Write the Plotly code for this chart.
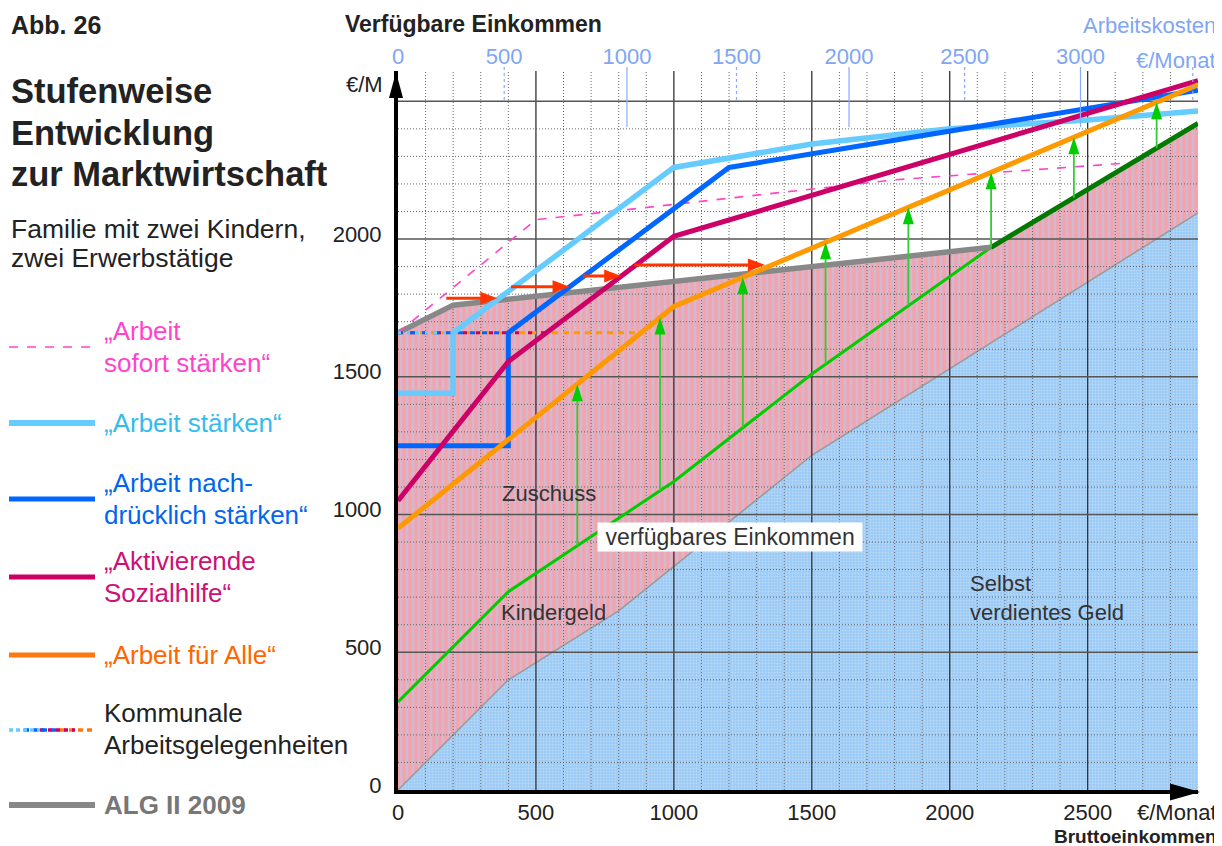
import numpy as np
import plotly.graph_objects as go

# ---------------- data ----------------
# Selbst verdientes Geld (net own earnings) vs. Bruttoeinkommen
x_self = [0, 400, 800, 1500, 2900]
y_self = [0, 400, 650, 1215, 2095]
# ALG II 2009
x_alg = [0, 200, 2150]
y_alg = [1660, 1760, 1970]
# verfügbares Einkommen (light green) and its continuation above ALG II (dark green)
x_green = [0, 400, 1000, 1500, 2150]
y_green = [320, 720, 1120, 1510, 1970]
x_green_dark = [2150, 2900]
y_green_dark = [1970, 2420]
# „Arbeit sofort stärken“
x_sofort = [0, 500, 1800, 2630]
y_sofort = [1660, 2070, 2215, 2275]
# „Arbeit stärken“
x_staerken = [0, 200, 200, 1000, 1500, 2000, 2500, 2900]
y_staerken = [1440, 1440, 1660, 2260, 2345, 2400, 2432, 2465]
# „Arbeit nachdrücklich stärken“
x_nach = [0, 400, 400, 1200, 2900]
y_nach = [1250, 1250, 1660, 2260, 2540]
# „Aktivierende Sozialhilfe“
x_sozial = [0, 400, 1000, 2900]
y_sozial = [1050, 1555, 2010, 2575]
# „Arbeit für Alle“
x_alle = [0, 1000, 2900]
y_alle = [950, 1755, 2560]
# Kommunale Arbeitsgelegenheiten (level and where each variant's dashed part ends)
kommunal_level = 1660
kommunal_end_alle = 880
kommunal_end_sozial = 538
kommunal_end_nach = 400
kommunal_end_staerken = 200
# arrows
green_arrow_x = [650, 950, 1250, 1550, 1850, 2150, 2450, 2750]
red_arrow_y = [1785, 1827, 1866, 1906]
red_arrow_x0 = [175, 410, 670, 857]
red_arrow_x1 = [360, 622, 809, 1330]
# axes
bottom_tick_vals = [0, 500, 1000, 1500, 2000, 2500]
bottom_tick_text = ["0", "500", "1000", "1500", "2000", "2500"]
left_tick_vals = [0, 500, 1000, 1500, 2000, 2500]
left_tick_text = ["0", "500", "1000", "1500", "2000", ""]
top_tick_pos = [0, 385, 830, 1227, 1635, 2054, 2474]      # position on Brutto scale
top_tick_text = ["0", "500", "1000", "1500", "2000", "2500", "3000"]  # Arbeitskosten
top_tick_solid = [False, False, True, False, True, False, True]
top_unit_pos = 2881
X_MAX, Y_MAX = 2900, 2610
GRID_MAJOR, GRID_MINOR = 500, 100

FONT = "Liberation Sans, Arial, sans-serif"
OFF = 8                      # page body margin of the browser
L, T, W, H = 390, 63, 800, 719
FIG_W, FIG_H = 1214, 838


def px(x):                   # x in reference-screenshot pixels -> paper
    return (x - OFF - L) / W


def py(y):
    return (T + H - (y - OFF)) / H


# colours
C_LBLUE = "#66ccff"
C_BLUE = "#0066ff"
C_MAG = "#cc0066"
C_ORANGE = "#ff9900"
C_GREY = "#888888"
C_GREEN = "#00cc00"
C_DGREEN = "#007a00"
C_PINK = "#ff44cc"
C_RED = "#ff3300"

fig = go.Figure()

# self-earned area (blue dotted)
fig.add_trace(go.Scatter(
    x=x_self, y=y_self, mode="lines", fill="tozeroy",
    fillcolor="#9ccaf5",
    fillpattern=dict(shape=".", bgcolor="#9ccaf5",
                     fgcolor="rgba(255,255,255,0.6)", size=3, solidity=0.3),
    line=dict(color="#999999", width=1.5), hoverinfo="skip", showlegend=False))

# hatched area between own earnings and ALG II / total (pink with light-blue stripes)
x_upper = x_alg + x_green_dark[1:]
y_upper = y_alg + y_green_dark[1:]
fig.add_trace(go.Scatter(
    x=x_upper, y=y_upper, mode="lines", fill="tonexty",
    fillcolor="#f7a2aa",
    fillpattern=dict(shape="|", bgcolor="#f7a2aa",
                     fgcolor="#a9d1f8", size=6, solidity=0.45),
    line=dict(width=0, color="rgba(0,0,0,0)"), hoverinfo="skip", showlegend=False))


def grid_trace(vals, vertical, color, width, dash):
    xs, ys = [], []
    for v in vals:
        if vertical:
            xs += [v, v, None]
            ys += [0, Y_MAX, None]
        else:
            xs += [0, X_MAX, None]
            ys += [v, v, None]
    fig.add_trace(go.Scatter(x=xs, y=ys, mode="lines",
                             line=dict(color=color, width=width, dash=dash),
                             hoverinfo="skip", showlegend=False, connectgaps=False))


major_x = list(range(GRID_MAJOR, X_MAX, GRID_MAJOR))
minor_x = [v for v in range(GRID_MINOR, X_MAX, GRID_MINOR) if v % GRID_MAJOR]
major_y = list(range(GRID_MAJOR, 2501, GRID_MAJOR))
minor_y = [v for v in range(GRID_MINOR, 2500, GRID_MINOR) if v % GRID_MAJOR]
grid_trace(minor_x, True, "#666666", 1, "1px,2px")
grid_trace(minor_y, False, "#666666", 1, "1px,2px")
grid_trace(major_x, True, "#333333", 1.3, "solid")
grid_trace(major_y, False, "#555555", 1.6, "solid")


def line(x, y, color, width, dash="solid"):
    fig.add_trace(go.Scatter(x=x, y=y, mode="lines",
                             line=dict(color=color, width=width, dash=dash),
                             hoverinfo="skip", showlegend=False))


line(x_green, y_green, C_GREEN, 3)
line(x_alg, y_alg, C_GREY, 5.5)
line(x_green_dark, y_green_dark, C_DGREEN, 5)
line(x_sofort, y_sofort, C_PINK, 1.6, "dash")

# Kommunale Arbeitsgelegenheiten (overlapping dashed segments)
line([0, kommunal_end_alle], [kommunal_level] * 2, C_ORANGE, 3, "6px,5px")
line([0, kommunal_end_sozial], [kommunal_level] * 2, C_MAG, 3, "4px,9px")
line([0, kommunal_end_nach], [kommunal_level] * 2, C_BLUE, 3, "5px,7px")
line([0, kommunal_end_staerken], [kommunal_level] * 2, C_LBLUE, 3.5, "3px,6px")

line(x_staerken, y_staerken, C_LBLUE, 5.5)
line(x_nach, y_nach, C_BLUE, 5)
line(x_sozial, y_sozial, C_MAG, 5)
line(x_alle, y_alle, C_ORANGE, 5)

shapes = []
annotations = []

# green arrows: from total disposable income up to "Arbeit für Alle"
x_total = x_green + x_green_dark[1:]
y_total = y_green + y_green_dark[1:]
for gx in green_arrow_x:
    y0 = float(np.interp(gx, x_total, y_total))
    y1 = float(np.interp(gx, x_alle, y_alle))
    shapes.append(dict(type="line", xref="x", yref="y", x0=gx, x1=gx, y0=y0, y1=y1 - 30,
                       line=dict(color="#33cc33", width=1.8), layer="above"))
    shapes.append(dict(type="path", xref="x", yref="y", xsizemode="pixel", ysizemode="pixel",
                       xanchor=gx, yanchor=y1, path="M -5.5 -17 L 0 0 L 5.5 -17 Z",
                       fillcolor=C_GREEN, line=dict(width=0), layer="above"))

# red arrows
for ry, rx0, rx1 in zip(red_arrow_y, red_arrow_x0, red_arrow_x1):
    shapes.append(dict(type="line", xref="x", yref="y", x0=rx0, x1=rx1 - 30, y0=ry, y1=ry,
                       line=dict(color=C_RED, width=3), layer="above"))
    shapes.append(dict(type="path", xref="x", yref="y", xsizemode="pixel", ysizemode="pixel",
                       xanchor=rx1, yanchor=ry, path="M -17 -6.5 L 0 0 L -17 6.5 Z",
                       fillcolor=C_RED, line=dict(width=0), layer="above"))

# top (Arbeitskosten) tick marks
for tp, solid in zip(top_tick_pos[1:] + [top_unit_pos], top_tick_solid[1:] + [False]):
    shapes.append(dict(type="line", xref="x", yref="paper", x0=tp, x1=tp,
                       y0=py(127) if solid else py(100), y1=py(67),
                       line=dict(color="#88aaff", width=1.2, dash="solid" if solid else "dot"),
                       layer="above"))

# axis arrowheads
shapes.append(dict(type="path", xref="paper", yref="paper", xsizemode="pixel", ysizemode="pixel",
                   xanchor=1, yanchor=0, path="M -28 6.5 L 2 -2 L -28 -10.5 Z",
                   fillcolor="black", line=dict(width=0), layer="above"))
shapes.append(dict(type="path", xref="paper", yref="paper", xsizemode="pixel", ysizemode="pixel",
                   xanchor=0, yanchor=1, path="M -9 -27 L -2 -1 L 5 -27 Z",
                   fillcolor="black", line=dict(width=0), layer="above"))


def txt(x, y, s, size, color="#222222", bold=False, xanchor="left", bg=None, pad=1):
    annotations.append(dict(xref="paper", yref="paper", x=px(x), y=py(y),
                            text=("<b>%s</b>" % s) if bold else s, showarrow=False,
                            xanchor=xanchor, yanchor="middle", borderpad=pad,
                            bgcolor=bg, font=dict(family=FONT, size=size, color=color)))


# titles
txt(9, 25, "Abb. 26", 25, bold=True)
txt(9, 91, "Stufenweise", 34.5, bold=True)
txt(9, 133, "Entwicklung", 34.5, bold=True)
txt(9, 174, "zur Marktwirtschaft", 34.5, bold=True)
txt(9, 229, "Familie mit zwei Kindern,", 26.5)
txt(9, 258, "zwei Erwerbstätige", 26.5)
txt(343, 24, "Verfügbare Einkommen", 23, bold=True)
txt(1218, 26, "Arbeitskosten", 22, color="#7fa6f5", xanchor="right")
txt(1218, 60, "€/Monat", 22, color="#7fa6f5", xanchor="right")
txt(385, 84, "€/M", 22, xanchor="right")
txt(1218, 812, "€/Monat", 22, xanchor="right", pad=0)
txt(1218, 836, "Bruttoeinkommen", 19, bold=True, xanchor="right", pad=0)

# in-plot labels
txt(500, 493, "Zuschuss", 22, color="#333333")
txt(499, 612, "Kindergeld", 22, color="#333333")
txt(597, 537, "&nbsp;verfügbares Einkommen&nbsp;", 23, color="#333333", bg="white", pad=1)
txt(968, 583, "Selbst", 22, color="#333333")
txt(968, 612, "verdientes Geld", 22, color="#333333")

# legend (left panel)
LEG_FS = 26
legend_items = [
    (347, C_PINK, 1.6, "dash", ["„Arbeit", "sofort stärken“"], "#ff44cc", False),
    (423, C_LBLUE, 6, "solid", ["„Arbeit stärken“"], "#33bbee", False),
    (499, C_BLUE, 5, "solid", ["„Arbeit nach-", "drücklich stärken“"], "#0066ee", False),
    (577, C_MAG, 5, "solid", ["„Aktivierende", "Sozialhilfe“"], "#cc1177", False),
    (655, "#ff7711", 5, "solid", ["„Arbeit für Alle“"], "#ff6600", False),
    (805, C_GREY, 6, "solid", ["ALG II 2009"], "#777777", True),
]
for ly, col, wid, dash, lines_, tcol, bold in legend_items:
    shapes.append(dict(type="line", xref="paper", yref="paper", x0=px(9), x1=px(95),
                       y0=py(ly), y1=py(ly), line=dict(color=col, width=wid, dash=dash)))
    if len(lines_) == 1:
        txt(102, ly, lines_[0], LEG_FS, color=tcol, bold=bold)
    else:
        txt(102, ly - 16, lines_[0], LEG_FS, color=tcol, bold=bold)
        txt(102, ly + 16, lines_[1], LEG_FS, color=tcol, bold=bold)

# Kommunale legend sample
for x0, x1, col, dash in [(60, 95, "#ff7711", "5px,4px"), (40, 75, C_MAG, "4px,4px"),
                          (24, 58, C_BLUE, "5px,4px"), (9, 40, C_LBLUE, "4px,3px")]:
    shapes.append(dict(type="line", xref="paper", yref="paper", x0=px(x0), x1=px(x1),
                       y0=py(730), y1=py(730), line=dict(color=col, width=3.5, dash=dash)))
txt(102, 713, "Kommunale", LEG_FS)
txt(102, 745, "Arbeitsgelegenheiten", LEG_FS)

fig.update_layout(
    width=FIG_W, height=FIG_H,
    margin=dict(l=L, r=FIG_W - L - W, t=T, b=FIG_H - T - H),
    paper_bgcolor="white", plot_bgcolor="white",
    font=dict(family=FONT, size=22, color="#222222"),
    shapes=shapes, annotations=annotations, showlegend=False,
    xaxis=dict(range=[0, X_MAX], tickvals=bottom_tick_vals, ticktext=bottom_tick_text,
               showgrid=False, showline=True, linecolor="black", linewidth=4, zeroline=False,
               ticks="", ticklabelstandoff=0, tickfont=dict(size=22, color="#222222")),
    yaxis=dict(range=[0, Y_MAX], tickvals=left_tick_vals, ticktext=left_tick_text,
               showgrid=False, showline=True, linecolor="black", linewidth=4, zeroline=False,
               ticks="", ticklabelstandoff=8, ticklabelshift=-5,
               tickfont=dict(size=22, color="#222222")),
    xaxis2=dict(range=[0, X_MAX], overlaying="x", side="top", tickvals=top_tick_pos,
                ticktext=top_tick_text, showgrid=False, showline=False, zeroline=False,
                ticks="", tickfont=dict(size=22, color="#7fa6f5"), ticklabelstandoff=2),
)
# invisible trace to activate the top axis
fig.add_trace(go.Scatter(x=[0], y=[0], xaxis="x2", mode="markers",
                         marker=dict(opacity=0), hoverinfo="skip", showlegend=False))

fig.write_html("out.html")
